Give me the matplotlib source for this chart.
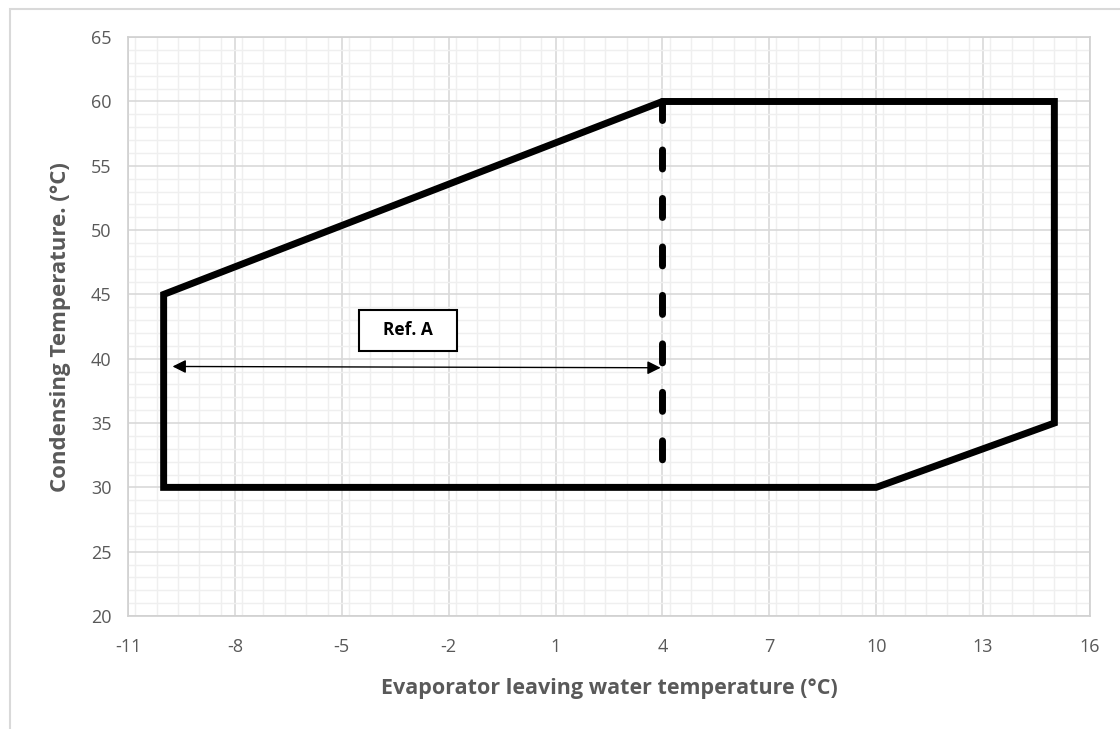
import matplotlib
matplotlib.use('Agg')
import matplotlib.pyplot as plt
from matplotlib.patches import Rectangle, Polygon
from matplotlib.ticker import MultipleLocator

plt.rcParams['font.family'] = ['Open Sans', 'DejaVu Sans']
plt.rcParams['axes.unicode_minus'] = False

# operating envelope
env_x = [-10, 4, 15, 15, 10, -10]
env_y = [45, 60, 60, 35, 30, 30]

# dashed limit at 4 degC
limit_x = [4, 4]
limit_y = [60, 31.5]

# "Ref. A" arrow and label
arrow_start = (-9.75, 39.4)
arrow_end = (3.95, 39.3)
ref_label = "Ref. A"
ref_pos = (-3.13, 42.2)

x_ticks = [-11, -8, -5, -2, 1, 4, 7, 10, 13, 16]
y_ticks = [20, 25, 30, 35, 40, 45, 50, 55, 60, 65]

gray = '#595959'

fig = plt.figure(figsize=(11.2, 7.29), dpi=100)
ax = fig.add_axes([0.1143, 0.155, 0.8589, 0.794])

# light frame around the chart area
fig.patches.append(Rectangle((10/1120, -0.1), 1.2, (729-9)/729 + 0.1, transform=fig.transFigure,
                             fill=False, edgecolor='#d9d9d9', lw=1.5))

ax.set_xlim(-11, 16)
ax.set_ylim(20, 65)
ax.set_xticks(x_ticks)
ax.set_yticks(y_ticks)
ax.xaxis.set_minor_locator(MultipleLocator(0.6))
ax.yaxis.set_minor_locator(MultipleLocator(1))
ax.grid(which='major', color='#d9d9d9', lw=1.2)
ax.grid(which='minor', color='#efefef', lw=1.0)
ax.set_axisbelow(True)
ax.tick_params(which='both', length=0, labelsize=13, labelcolor=gray)
ax.tick_params(axis='x', pad=16)
ax.tick_params(axis='y', pad=12)
for s in ax.spines.values():
    s.set_color('#d0d0d0')
    s.set_linewidth(1.2)

ax.add_patch(Polygon(list(zip(env_x, env_y)), closed=True, fill=False,
                     edgecolor='black', lw=5, joinstyle='miter', zorder=3))
ax.plot(limit_x, limit_y, color='black', lw=5, linestyle=(0, (2.74, 4.24)),
        dash_capstyle='round', zorder=3)

ax.annotate('', xy=arrow_end, xytext=arrow_start,
            arrowprops=dict(arrowstyle='<|-|>', color='black', lw=1, mutation_scale=20,
                            shrinkA=0, shrinkB=0), zorder=4)

bw, bh = 2.75, 3.2
ax.add_patch(Rectangle((ref_pos[0] - bw/2, ref_pos[1] - bh/2), bw, bh,
                       facecolor='white', edgecolor='black', lw=1.5, zorder=4))
ax.text(ref_pos[0], ref_pos[1], ref_label, ha='center', va='center',
        fontsize=12.5, fontweight='bold', color='black', zorder=5)

ax.set_xlabel('Evaporator leaving water temperature (°C)', fontsize=15.5,
              fontweight='bold', color=gray, labelpad=16)
ax.set_ylabel('Condensing Temperature. (°C)', fontsize=16,
              fontweight='bold', color=gray, labelpad=14)

fig.savefig('out.png', dpi=100)
